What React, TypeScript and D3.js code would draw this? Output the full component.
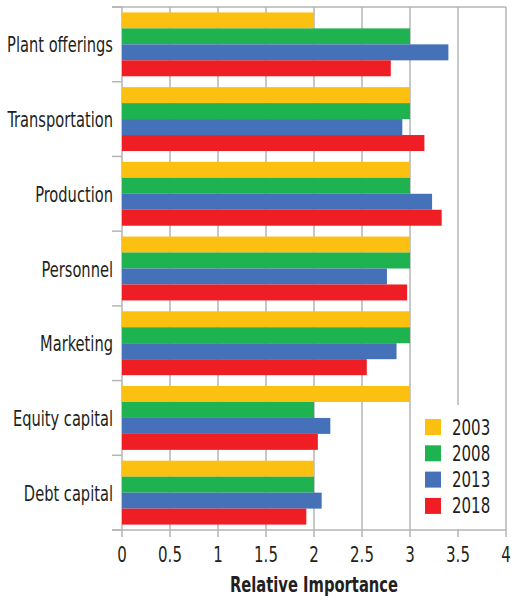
import React from "react";
import * as d3 from "d3";

const categories = ["Plant offerings", "Transportation", "Production", "Personnel", "Marketing", "Equity capital", "Debt capital"];
const years = ["2003", "2008", "2013", "2018"];
const v2003 = [2, 3, 3, 3, 3, 3, 2];
const v2008 = [3, 3, 3, 3, 3, 2, 2];
const v2013 = [3.4, 2.92, 3.23, 2.76, 2.86, 2.17, 2.08];
const v2018 = [2.8, 3.15, 3.33, 2.97, 2.55, 2.04, 1.92];
const xTicks = [0, 0.5, 1, 1.5, 2, 2.5, 3, 3.5, 4];
const colors = ["#FCC010", "#1FB250", "#4571B8", "#EE1E24"];

const W = 511, H = 600;
const left = 122, right = 506, top = 7, bottom = 530;
const font = "'DejaVu Sans Condensed', 'DejaVu Sans', sans-serif";
const textColor = "#231f20";
const grid = "#b5b5b5";

function T(props: { x: number; y: number; sx: number; size: number; anchor?: string; bold?: boolean; children: React.ReactNode }) {
  return (
    <text
      transform={`translate(${props.x},${props.y}) scale(${props.sx},1)`}
      textAnchor={props.anchor || "start"}
      fontFamily={font}
      fontSize={props.size}
      fontWeight={props.bold ? "bold" : "normal"}
      fill={textColor}
    >
      {props.children}
    </text>
  );
}

export default function App() {
  const series = [v2003, v2008, v2013, v2018];
  const x = d3.scaleLinear().domain([0, 4]).range([left, right]);
  const y0 = d3.scaleBand<string>().domain(categories).range([top, bottom]).paddingInner(0.145).paddingOuter(0.0725);
  const y1 = d3.scaleBand<string>().domain(years).range([0, y0.bandwidth()]);
  const step = y0.step();

  return (
    <svg width={W} height={H} style={{ position: "absolute", left: 0, top: 0, background: "#fff" }}>
      {xTicks.map((t) => (
        <line key={"g" + t} x1={x(t)} x2={x(t)} y1={top} y2={bottom + 7} stroke={grid} strokeWidth={1.5} />
      ))}
      <line x1={112} x2={right} y1={top} y2={top} stroke={grid} strokeWidth={1.5} />
      {d3.range(categories.length + 1).map((i) => (
        <line key={"ct" + i} x1={112} x2={left} y1={top + i * step} y2={top + i * step} stroke={grid} strokeWidth={1.5} />
      ))}
      <line x1={112} x2={right} y1={bottom} y2={bottom} stroke={grid} strokeWidth={1.5} />
      {categories.map((c, i) => (
        <g key={c} transform={`translate(0,${y0(c)})`}>
          {years.map((yr, j) => (
            <rect key={yr} x={x(0)} y={y1(yr)} width={x(series[j][i]) - x(0)} height={y1.bandwidth()} fill={colors[j]} />
          ))}
        </g>
      ))}
      <rect x={412} y={405} width={93} height={124} fill="#fff" />
      {years.map((yr, j) => (
        <g key={"l" + yr} transform={`translate(425,${419 + j * 26.3})`}>
          <rect x={0} y={0} width={16} height={16} fill={colors[j]} />
          <T x={27} y={15.5} sx={0.76} size={22}>{yr}</T>
        </g>
      ))}
      {categories.map((c) => (
        <T key={"yl" + c} x={113} y={(y0(c) as number) + y0.bandwidth() / 2 + 8} sx={0.74} size={22} anchor="end">{c}</T>
      ))}
      {xTicks.map((t) => (
        <T key={"xl" + t} x={x(t)} y={562} sx={0.76} size={22} anchor="middle">{t}</T>
      ))}
      <T x={(left + right) / 2} y={592} sx={0.8} size={20.5} anchor="middle" bold>Relative Importance</T>
    </svg>
  );
}
